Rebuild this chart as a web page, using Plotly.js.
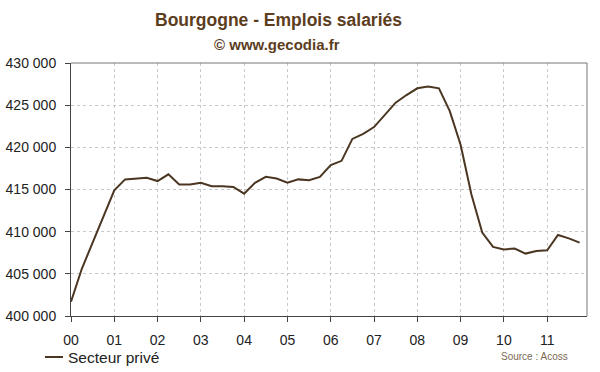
<!DOCTYPE html>
<html>
<head>
<meta charset="utf-8">
<script src="https://cdn.plot.ly/plotly-3.0.1.min.js"></script>
<style>html,body{margin:0;padding:0;background:#fff;}#chart{width:600px;height:372px;}</style>
</head>
<body>
<div id="chart"></div>
<script>
// Quarterly positions expressed in years since 2000 (0 = 2000 Q1)
const quarters = [
  0,0.25,0.5,0.75, 1,1.25,1.5,1.75, 2,2.25,2.5,2.75, 3,3.25,3.5,3.75,
  4,4.25,4.5,4.75, 5,5.25,5.5,5.75, 6,6.25,6.5,6.75, 7,7.25,7.5,7.75,
  8,8.25,8.5,8.75, 9,9.25,9.5,9.75, 10,10.25,10.5,10.75, 11,11.25,11.5,11.75
];
const secteurPrive = [
  401700,405600,408700,411900, 414900,416200,416300,416400, 416000,416800,415600,415600,
  415800,415400,415400,415300, 414500,415800,416500,416300, 415800,416200,416100,416500,
  417900,418400,421000,421600, 422400,423800,425300,426200, 427000,427200,427000,424300,
  420300,414400,409900,408200, 407900,408000,407400,407700, 407800,409600,409200,408700
];
const xTickVals = [0,1,2,3,4,5,6,7,8,9,10,11];
const xTickText = ['00','01','02','03','04','05','06','07','08','09','10','11'];
const yTickVals = [400000,405000,410000,415000,420000,425000,430000];
const yTickText = ['400 000','405 000','410 000','415 000','420 000','425 000','430 000'];
const seriesName = 'Secteur privé';
const lineColor = '#4b3621';

const M = {l: 71, r: 13, t: 63, b: 56};
const pw = 600 - M.l - M.r, ph = 372 - M.t - M.b;
const px2x = px => (px - M.l) / pw;
const py2y = py => (372 - M.b - py) / ph;

const trace = {
  x: quarters, y: secteurPrive, type: 'scatter', mode: 'lines',
  name: seriesName,
  line: {color: lineColor, width: 2}
};
const layout = {
  width: 600, height: 372,
  margin: M,
  paper_bgcolor: '#fff', plot_bgcolor: '#fff',
  font: {family: 'Liberation Sans, Arial, sans-serif', color: '#222'},
  showlegend: false,
  xaxis: {
    range: [0, 11.92], tickvals: xTickVals, ticktext: xTickText,
    ticks: 'outside', ticklen: 5, tickcolor: '#444', tickfont: {size: 14, color: '#222'},
    ticklabelstandoff: 6,
    showline: true, linecolor: '#444', linewidth: 1,
    showgrid: true, gridcolor: '#c8c8c8', griddash: 'dot', gridwidth: 1,
    zeroline: false, fixedrange: true
  },
  yaxis: {
    range: [400000, 430000], tickvals: yTickVals, ticktext: yTickText,
    ticks: 'outside', ticklen: 5, tickcolor: '#444', tickfont: {size: 14, color: '#222'},
    ticklabelstandoff: 6,
    showline: true, linecolor: '#444', linewidth: 1,
    showgrid: true, gridcolor: '#c8c8c8', griddash: 'dot', gridwidth: 1,
    zeroline: false, fixedrange: true
  },
  shapes: [
    {type: 'line', xref: 'paper', yref: 'paper', x0: 0, x1: 1, y0: 1, y1: 1, line: {color: '#777', width: 1}},
    {type: 'line', xref: 'paper', yref: 'paper', x0: 1, x1: 1, y0: 0, y1: 1, line: {color: '#777', width: 1}},
    {type: 'line', xref: 'paper', yref: 'paper', x0: px2x(45), x1: px2x(63), y0: py2y(357), y1: py2y(357),
     line: {color: lineColor, width: 2}}
  ],
  annotations: [
    {text: '<b>Bourgogne - Emplois salariés</b>', x: px2x(278), y: py2y(20), xanchor: 'center',
     font: {size: 17.5, color: '#5c3d1e'}},
    {text: '<b>© www.gecodia.fr</b>', x: px2x(277), y: py2y(45), xanchor: 'center',
     font: {size: 15, color: '#5c3d1e'}},
    {text: seriesName, x: px2x(66), y: py2y(357), xanchor: 'left',
     font: {size: 15.5, color: '#222'}},
    {text: 'Source : Acoss', x: px2x(534), y: py2y(356), xanchor: 'center',
     font: {size: 10, color: '#7a6a55'}}
  ].map(a => Object.assign({xref: 'paper', yref: 'paper', showarrow: false, yanchor: 'middle'}, a))
};
Plotly.newPlot('chart', [trace], layout, {displayModeBar: false, staticPlot: true});
</script>
</body>
</html>
